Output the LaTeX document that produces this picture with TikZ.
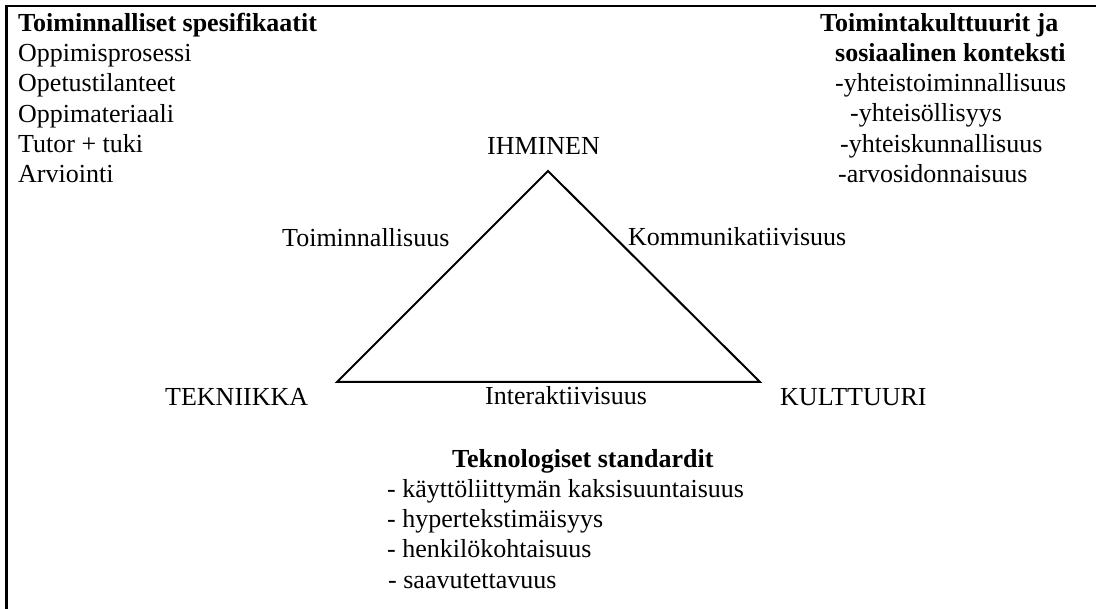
\documentclass[tikz,border=0pt]{standalone}
\usepackage{fontspec}
\setmainfont{Liberation Serif}
\begin{document}
\begin{tikzpicture}[x=1pt,y=-1pt,
  txt/.style={anchor=base west,inner sep=0pt,font=\fontsize{26}{30}\selectfont},
  head/.style={txt,font=\fontsize{26}{30}\selectfont\bfseries},
  frame/.style={line width=2.8pt},
  edge/.style={line width=2pt,line join=miter}]
\useasboundingbox (0,0) rectangle (1096,609);
% frame: top and left rules
\coordinate (ftl) at (6.5,6);
\coordinate (ftr) at (1096,6);
\coordinate (fbl) at (6.5,609);
\draw[frame] (ftr) -- (ftl) -- (fbl);
% left column
\node[head] (fs) at (18,32) {Toiminnalliset spesifikaatit};
\node[txt] (f1) at (18,62) {Oppimisprosessi};
\node[txt] (f2) at (18,92) {Opetustilanteet};
\node[txt] (f3) at (18,123) {Oppimateriaali};
\node[txt] (f4) at (18,153) {Tutor + tuki};
\node[txt] (f5) at (18,183) {Arviointi};
% right column
\node[head] (ka) at (820,32) {Toimintakulttuurit ja};
\node[head] (kb) at (835,62) {sosiaalinen konteksti};
\node[txt] (k1) at (835,92) {-yhteistoiminnallisuus};
\node[txt] (k2) at (850,122) {-yhteisöllisyys};
\node[txt] (k3) at (840,153) {-yhteiskunnallisuus};
\node[txt] (k4) at (838,183) {-arvosidonnaisuus};
% triangle
\coordinate (apex) at (548,171);
\coordinate (bl) at (337,382);
\coordinate (br) at (760,382);
\draw[edge] (apex) -- (bl) -- (br) -- cycle;
\node[txt] (ih) at (487,155) {IHMINEN};
\node[txt] (tm) at (282,247) {Toiminnallisuus};
\node[txt] (km) at (628,246) {Kommunikatiivisuus};
\node[txt] (tk) at (165,406) {TEKNIIKKA};
\node[txt] (ia) at (485,405) {Interaktiivisuus};
\node[txt] (ku) at (780,406) {KULTTUURI};
% bottom list
\node[head] (ts) at (452,468) {Teknologiset standardit};
\node[txt] (t1) at (387,498) {- käyttöliittymän kaksisuuntaisuus};
\node[txt] (t2) at (387,528) {- hypertekstimäisyys};
\node[txt] (t3) at (387,558) {- henkilökohtaisuus};
\node[txt] (t4) at (388,588) {- saavutettavuus};
\end{tikzpicture}
\end{document}
